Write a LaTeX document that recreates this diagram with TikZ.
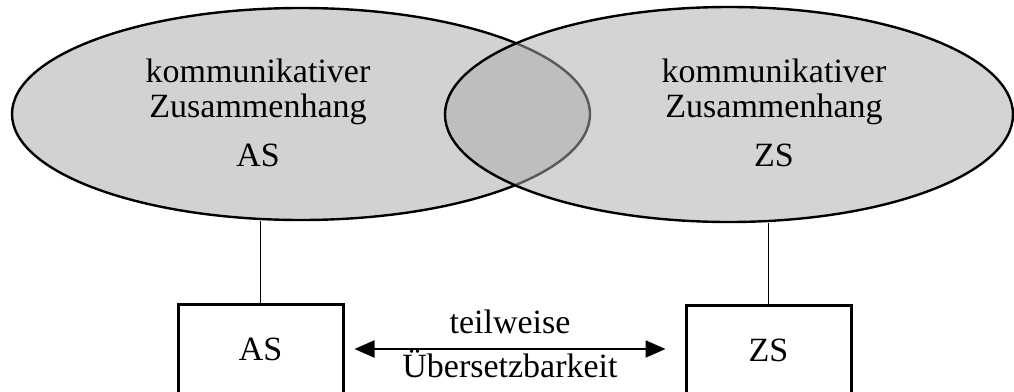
\documentclass[tikz,border=0pt]{standalone}
\usepackage{fontspec}
\setmainfont{Liberation Serif}
\usetikzlibrary{shapes.geometric,arrows.meta}
\newcommand{\grosstext}{\fontsize{34pt}{35pt}\selectfont}
\tikzset{
    every node/.style={font=\grosstext},
    kontext/.style={ellipse, draw, line width=2.4pt, inner sep=0pt},
    kontexttext/.style={align=center, inner sep=0pt},
    sprachbox/.style={draw, line width=3pt, minimum width=165pt, minimum height=90pt, inner sep=0pt}
}

\begin{document}
\begin{tikzpicture}[x=1pt, y=-1pt]

    % Fix the picture size
    \useasboundingbox (0,0) rectangle (1014,391);

    % Draw the two overlapping ellipses (the right one lets the left shine through)
    \node[kontext, fill=gray!35, minimum width=578pt, minimum height=212pt] (asEll) at (301,114) {};
    \node[kontext, fill=gray!65, fill opacity=0.52, minimum width=568pt, minimum height=215pt] (zsEll) at (729,114.5) {};

    % Texts inside the ellipses
    \node[kontexttext] (asText) at (258,113) {kommunikativer\\Zusammenhang\\[14pt]AS};
    \node[kontexttext] (zsText) at (774,113) {kommunikativer\\Zusammenhang\\[14pt]ZS};

    % Draw the two boxes
    \node[sprachbox] (asBox) at (260.5,349) {AS};
    \node[sprachbox] (zsBox) at (768.5,350) {ZS};

    % Connect ellipses and boxes
    \draw[line width=1.5pt] (asBox.north) -- (asBox.north |- asEll.south);
    \draw[line width=1.5pt] (zsBox.north) -- (zsBox.north |- zsEll.south);

    % Draw the double arrow between the boxes
    \coordinate (arrL) at ([xshift=10pt]asBox.east);
    \coordinate (arrR) at ([xshift=-19pt]arrL -| zsBox.west);
    \draw[line width=2.2pt, {Triangle[length=20pt, width=17pt]}-{Triangle[length=20pt, width=17pt]}]
        (arrL) -- (arrR)
        node[midway, anchor=base, yshift=16pt] {teilweise}
        node[midway, anchor=base, yshift=-28pt] {Übersetzbarkeit};

\end{tikzpicture}
\end{document}
